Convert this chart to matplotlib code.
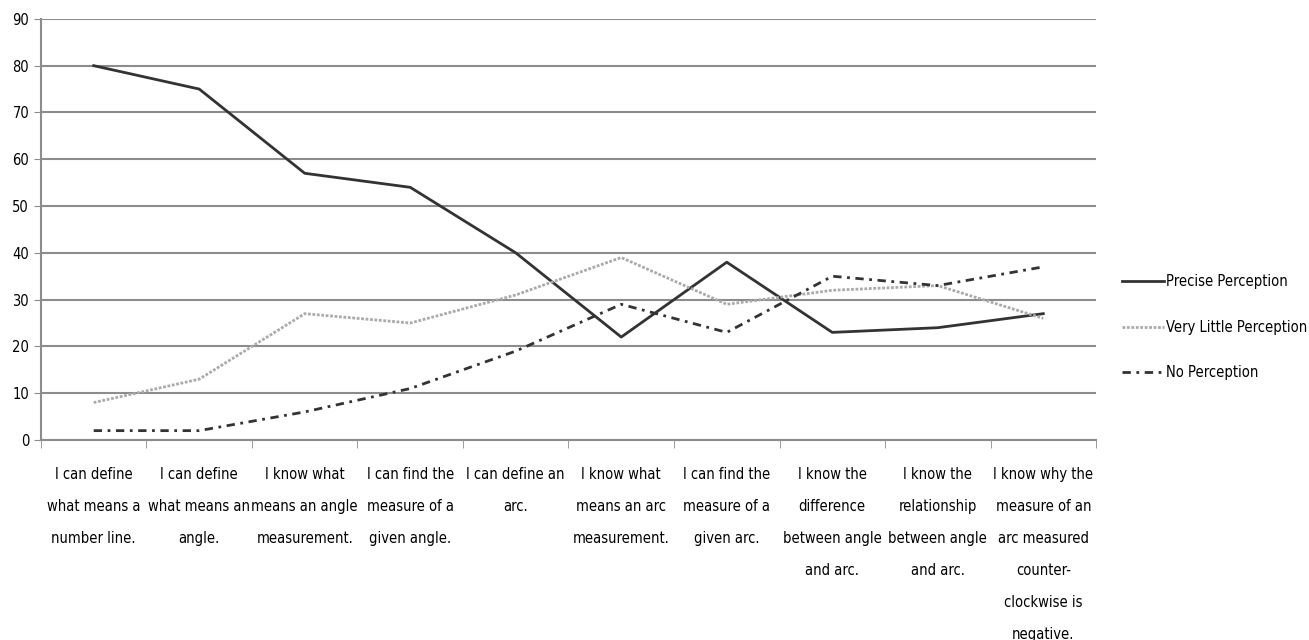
import matplotlib.pyplot as plt
import numpy as np

categories = ['I can define\nwhat means a\nnumber line.',
              'I can define\nwhat means an\nangle.',
              'I know what\nmeans an angle\nmeasurement.',
              'I can find the\nmeasure of a\ngiven angle.',
              'I can define an\narc.',
              'I know what\nmeans an arc\nmeasurement.',
              'I can find the\nmeasure of a\ngiven arc.',
              'I know the\ndifference\nbetween angle\nand arc.',
              'I know the\nrelationship\nbetween angle\nand arc.',
              'I know why the\nmeasure of an\narc measured\ncounter-\nclockwise is\nnegative.']
precise = [80, 75, 57, 54, 40, 22, 38, 23, 24, 27]
very_little = [8, 13, 27, 25, 31, 39, 29, 32, 33, 26]
no_perc = [2, 2, 6, 11, 19, 29, 23, 35, 33, 37]

plt.rcParams['font.family'] = ['Liberation Sans Narrow', 'DejaVu Sans']
plt.rcParams['font.stretch'] = 'condensed'

fig = plt.figure(figsize=(13.09, 6.40), dpi=100)
ax = fig.add_axes([0.0313, 0.3125, 0.806, 0.658])
x = np.arange(len(categories))

ax.plot(x, precise, c='#333333', lw=2, label='Precise Perception', zorder=3)
ax.plot(x, very_little, c='#aaaaaa', lw=2, ls=(0, (1, 0.6)), label='Very Little Perception', zorder=3)
ax.plot(x, no_perc, c='#333333', lw=2, ls=(0, (3, 2, 1, 2)), label='No Perception', zorder=3)

ax.set_xlim(-0.5, len(categories) - 0.5)
ax.set_ylim(0, 90)
ax.set_yticks(range(0, 91, 10))
ax.yaxis.grid(True, color='#8c8c8c', lw=1.5)
ax.set_axisbelow(True)
ax.set_xticks(x)
ax.set_xticklabels(categories, fontsize=10.5, linespacing=2.42, va='top')
ax.set_xticks(np.arange(-0.5, len(categories)), minor=True)
ax.tick_params(axis='x', which='major', length=0, pad=19.5)
ax.tick_params(axis='x', which='minor', length=6, color='#8c8c8c')
ax.tick_params(axis='y', length=5, color='#8c8c8c', labelsize=10.5)
for s in ['top', 'right']:
    ax.spines[s].set_visible(False)
for s in ['left', 'bottom']:
    ax.spines[s].set_color('#8c8c8c')
    ax.spines[s].set_linewidth(1.5)

ax.legend(loc='center left', bbox_to_anchor=(1.012, 0.268), frameon=False,
          fontsize=10.5, handlelength=2.9, handletextpad=0.1, labelspacing=2.1)

plt.savefig('out.png')
